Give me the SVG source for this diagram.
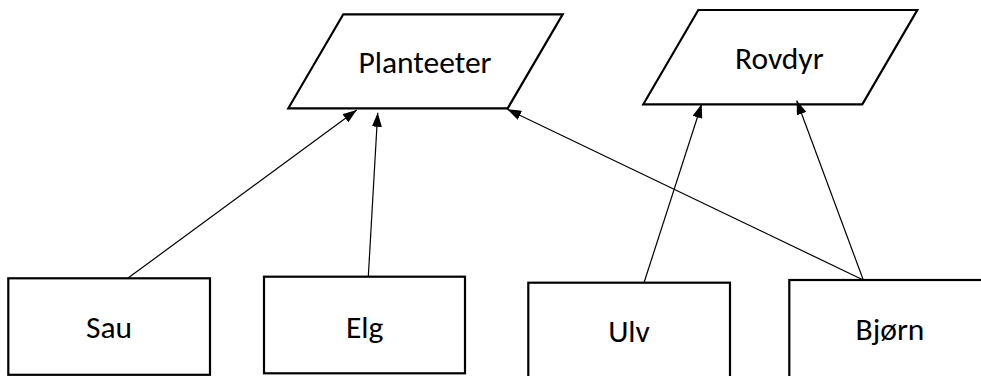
<svg xmlns="http://www.w3.org/2000/svg" width="981" height="376" viewBox="0 0 981 376">
  <style>
    .shape { fill: #ffffff; stroke: #000000; stroke-width: 2.2; }
    .label { font-family: Carlito, Lato, "Open Sans", sans-serif; font-size: 31.5px; fill: #000000; text-anchor: middle; }
    .link { stroke: #000000; stroke-width: 1.2; fill: none; marker-end: url(#arrow); }
  </style>
  <defs>
    <marker id="arrow" viewBox="0 0 14 10" refX="14" refY="5" markerWidth="14" markerHeight="10" markerUnits="userSpaceOnUse" orient="auto">
      <path d="M0,0 L14,5 L0,10 Z" fill="#000000"/>
    </marker>
  </defs>
  <rect width="981" height="376" fill="#ffffff"/>

  <g id="planteeter">
    <polygon class="shape" points="343.3,14.3 562.7,14.3 507.7,108.3 288.3,108.3"/>
    <text class="label" x="425" y="72.7">Planteeter</text>
  </g>
  <g id="rovdyr">
    <polygon class="shape" points="698.3,10 917.3,10 862.3,104.3 643.3,104.3"/>
    <text class="label" x="779.3" y="69">Rovdyr</text>
  </g>
  <g id="sau">
    <rect class="shape" x="8.3" y="278.3" width="201.7" height="96.5"/>
    <text class="label" x="109" y="338">Sau</text>
  </g>
  <g id="elg">
    <rect class="shape" x="264" y="276.7" width="201" height="96.6"/>
    <text class="label" x="364.7" y="337.7">Elg</text>
  </g>
  <g id="ulv">
    <rect class="shape" x="528.3" y="282.7" width="201.7" height="100"/>
    <text class="label" x="629" y="341.7">Ulv</text>
  </g>
  <g id="bjorn">
    <rect class="shape" x="789.3" y="280" width="210" height="100"/>
    <text class="label" x="890" y="340">Bjørn</text>
  </g>

  <g id="connectors">
    <line class="link" x1="127.7" y1="278.3" x2="356.7" y2="110"/>
    <line class="link" x1="368.3" y1="276.7" x2="377.7" y2="112.7"/>
    <line class="link" x1="863.3" y1="280" x2="507.3" y2="109.3"/>
    <line class="link" x1="644" y1="282.7" x2="701.7" y2="104"/>
    <line class="link" x1="863.3" y1="280" x2="796.7" y2="100.5"/>
  </g>
</svg>
